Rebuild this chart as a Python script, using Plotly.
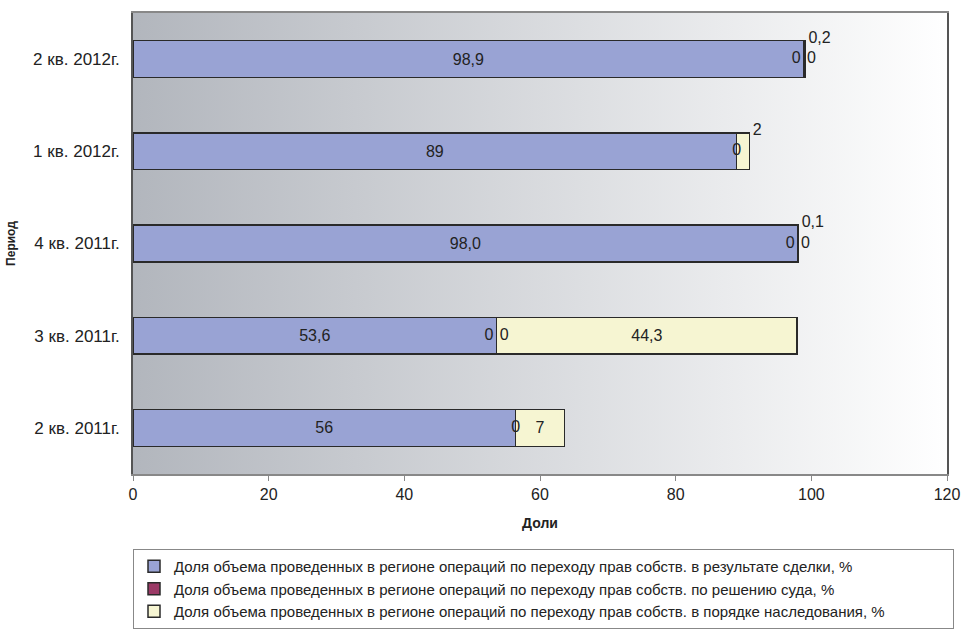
import base64
import plotly.graph_objects as go

# periods, bottom to top
periods = ['2 кв. 2011г.', '3 кв. 2011г.', '4 кв. 2011г.', '1 кв. 2012г.', '2 кв. 2012г.']
pos = list(range(len(periods)))

# shares, %
deal_vals = [56.4, 53.6, 98.0, 89.0, 98.9]
deal_labels = ['56', '53,6', '98,0', '89', '98,9']
court_vals = [0, 0, 0, 0, 0]
court_labels = ['0', '0', '0', '0', '0']
inherit_vals = [7.2, 44.3, 0.1, 1.9, 0.2]
inherit_labels = ['7', '44,3', '0,1', '2', '0,2']
other_labels = ['', '0', '0', '', '0']  # zero labels of the series cut off below the legend

x_ticks = [0, 20, 40, 60, 80, 100, 120]

names = [
    'Доля объема проведенных в регионе операций по переходу прав собств. в результате сделки, %',
    'Доля объема проведенных в регионе операций по переходу прав собств. по решению суда, %',
    'Доля объема проведенных в регионе операций по переходу прав собств. в порядке наследования, %',
]
colors = ['#99a3d4', '#9b3a66', '#f6f5d2']
FONT = 'Arial, Liberation Sans, sans-serif'
edge = dict(color='#2a2a2a', width=1.5)
lab_font = dict(size=16, color='#222', family=FONT)

fig = go.Figure()

fig.add_trace(go.Bar(y=pos, x=deal_vals, orientation='h', name=names[0],
                     marker=dict(color=colors[0], line=edge), width=0.4,
                     text=deal_labels, textposition='inside', insidetextanchor='middle',
                     textangle=0, textfont=lab_font, hoverinfo='skip'))
fig.add_trace(go.Bar(y=pos, x=court_vals, orientation='h', name=names[1],
                     marker=dict(color=colors[1], line=edge), width=0.4, hoverinfo='skip'))
small = [v < 5 for v in inherit_vals]
fig.add_trace(go.Bar(y=pos, x=inherit_vals, orientation='h', name=names[2],
                     marker=dict(color=colors[2], line=edge), width=0.4,
                     text=['' if s else t for s, t in zip(small, inherit_labels)],
                     textposition='inside', insidetextanchor='middle', textangle=0,
                     textfont=lab_font, hoverinfo='skip'))

# zero labels at the end of the blue segment
ends = [d + c for d, c in zip(deal_vals, court_vals)]
fig.add_trace(go.Scatter(y=pos, x=ends, mode='text', showlegend=False,
                         text=[t + '\u2009' if o else t for t, o in zip(court_labels, other_labels)],
                         textposition=['middle left' if o else 'middle center' for o in other_labels],
                         textfont=lab_font, hoverinfo='skip'))
fig.add_trace(go.Scatter(y=pos, x=ends, mode='text', showlegend=False,
                         text=['\u2009' + o if o else '' for o in other_labels],
                         textposition='middle right', textfont=lab_font, hoverinfo='skip'))
# small inheritance values shown above right of the bar
totals = [e + v for e, v in zip(ends, inherit_vals)]
fig.add_trace(go.Scatter(y=[p + 0.22 for p in pos], x=totals, mode='text',
                         text=['\u2009' + t if s else '' for s, t in zip(small, inherit_labels)],
                         textposition='middle right', showlegend=False,
                         textfont=lab_font, hoverinfo='skip'))

svg = ('<svg xmlns="http://www.w3.org/2000/svg" width="200" height="20" preserveAspectRatio="none">'
       '<defs><linearGradient id="g" x1="0" y1="0" x2="1" y2="0">'
       '<stop offset="0" stop-color="#b2b6bd"/><stop offset="1" stop-color="#ffffff"/>'
       '</linearGradient></defs><rect width="200" height="20" fill="url(#g)"/></svg>')
bg = 'data:image/svg+xml;base64,' + base64.b64encode(svg.encode()).decode()

fig.update_layout(
    width=962, height=631,
    margin=dict(l=133, r=15, t=13, b=157),
    barmode='stack',
    paper_bgcolor='white', plot_bgcolor='white',
    font=dict(family=FONT, size=15, color='#222'),
    images=[dict(source=bg, xref='x', yref='y', x=x_ticks[0], y=len(periods) - 0.5,
                 sizex=x_ticks[-1] - x_ticks[0], sizey=len(periods), sizing='stretch',
                 layer='below', xanchor='left', yanchor='top')],
    xaxis=dict(range=[x_ticks[0], x_ticks[-1]], tickvals=x_ticks, showgrid=False, zeroline=False,
               ticks='outside', ticklen=5, tickcolor='#888', linecolor='#888', linewidth=1.5,
               mirror=True, tickfont=dict(size=16), ticklabelstandoff=0, automargin='bottom',
               title=dict(text='<b>Доли</b>', font=dict(size=14), standoff=16)),
    yaxis=dict(range=[-0.5, len(periods) - 0.5], tickvals=pos, ticktext=periods,
               showgrid=False, zeroline=False, ticks='outside', ticklen=8,
               tickcolor='rgba(0,0,0,0)', linecolor='#555', linewidth=1.5, mirror=True,
               tickfont=dict(size=17), automargin=False,
               title=dict(text='<b>Период</b>', font=dict(size=12))),
    legend=dict(x=133 / 962, xref='container', y=1 - 549 / 631, yref='container',
                xanchor='left', yanchor='top', orientation='h',
                entrywidth=1, entrywidthmode='fraction',
                traceorder='normal', bordercolor='#888', borderwidth=1, bgcolor='white',
                font=dict(size=15, color='#222'), itemwidth=30),
)

fig.write_html("out.html", config={'displayModeBar': False},
               post_script="document.body.style.margin = '0';")
